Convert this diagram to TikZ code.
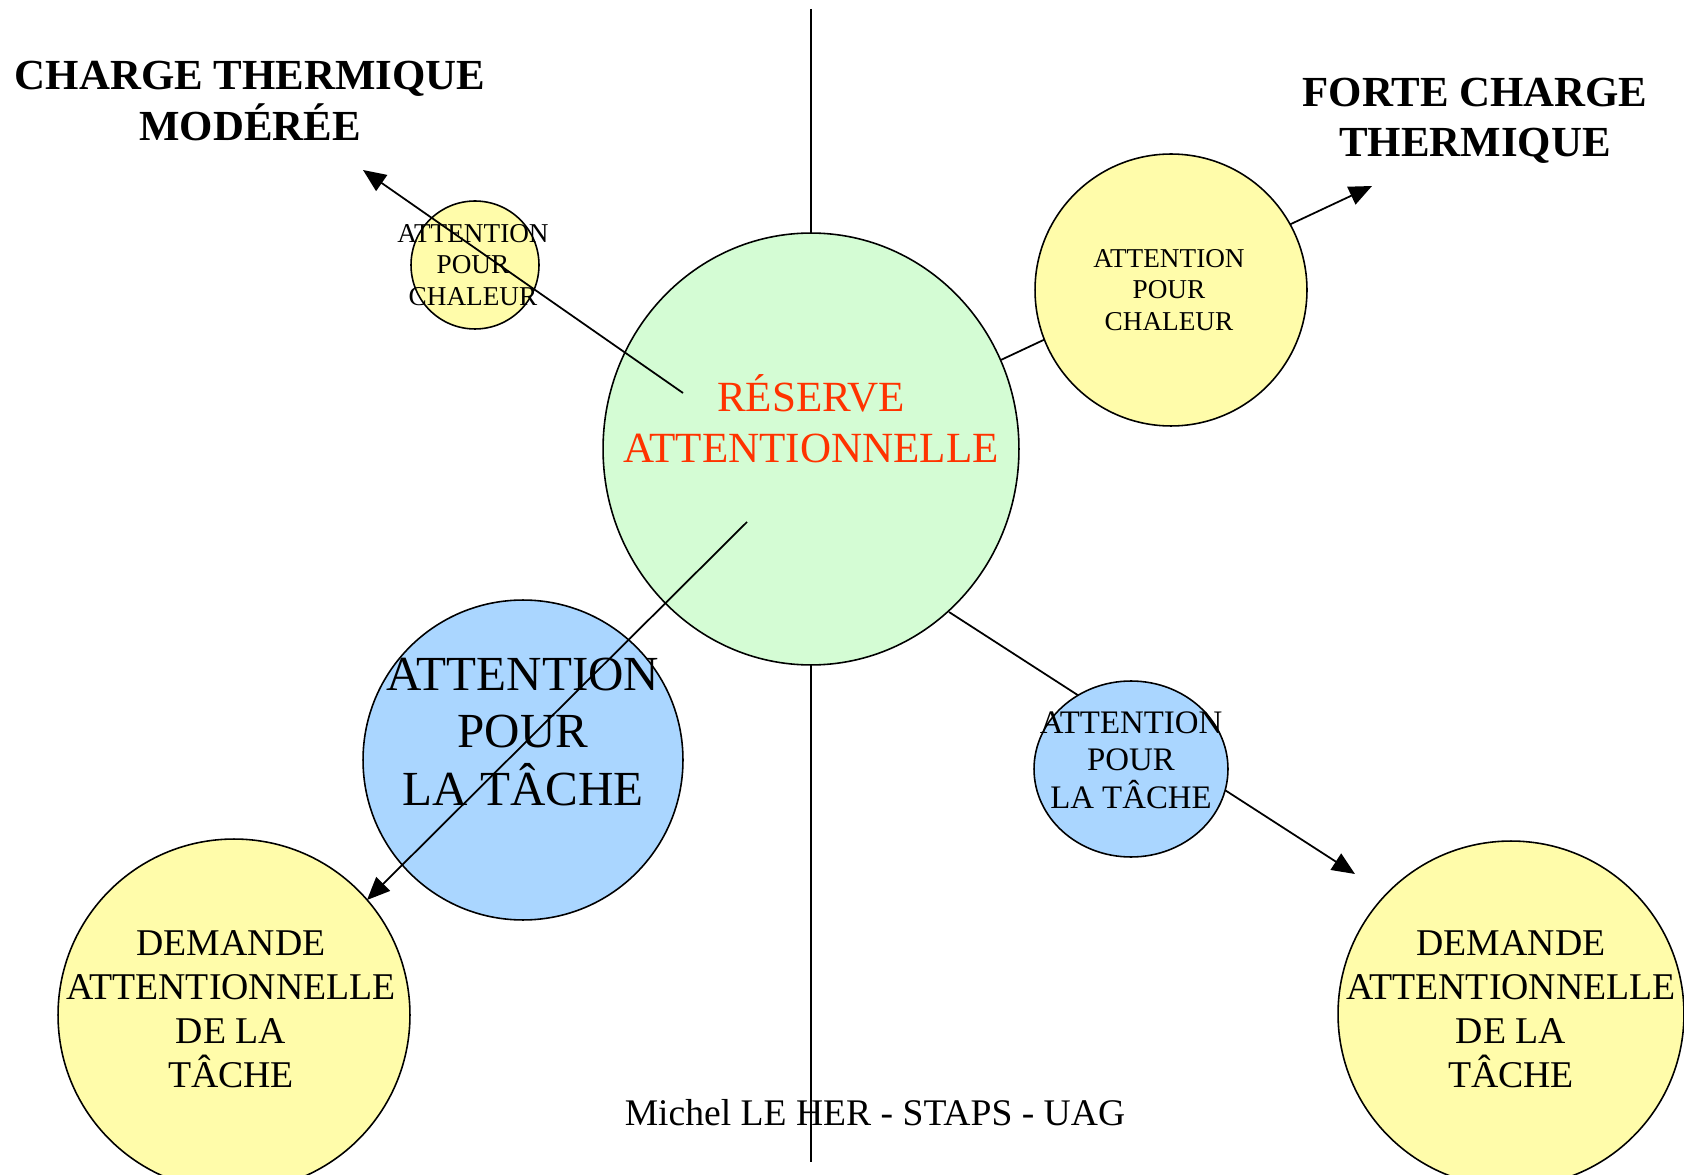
\documentclass[tikz,border=0pt]{standalone}
\usepackage{fontspec}
\setmainfont{Liberation Serif}
\usetikzlibrary{arrows.meta,positioning,shapes.geometric,backgrounds}
\definecolor{vertpale}{RGB}{212,252,212}
\definecolor{jaunepale}{RGB}{255,252,170}
\definecolor{bleupale}{RGB}{170,214,255}
\definecolor{rougevif}{RGB}{255,51,0}

\begin{document}
\begin{tikzpicture}[x=0.02cm, y=-0.02cm,
    bulle/.style={draw, line width=0.9pt, inner sep=0pt},
    rond/.style={bulle, circle, minimum size=#1},
    ovale/.style={bulle, ellipse},
    fleche/.style={line width=1pt, -{Triangle[length=13pt, width=11pt]}},
    texte/.style={align=center, inner sep=0pt}]
    \useasboundingbox (0,0) rectangle (1684,1175);

    % axe vertical
    \coordinate (axehaut) at (811,9);
    \coordinate (axebas) at (811,1162);

    % bulles
    \node[ovale, fill=vertpale, minimum width=8.32cm, minimum height=8.64cm] (reserve) at (811,449) {};
    \node[rond=2.56cm, fill=jaunepale] (chaleurmod) at (475,265) {};
    \node[rond=5.44cm, fill=jaunepale] (chaleurfort) at (1171,290) {};
    \node[rond=6.4cm, fill=bleupale] (tachemod) at (523,760) {};
    \node[ovale, fill=bleupale, minimum width=3.88cm, minimum height=3.52cm] (tachefort) at (1131,769) {};
    \node[rond=7.04cm, fill=jaunepale] (demandemod) at (234,1015) {};
    \node[rond=6.92cm, fill=jaunepale] (demandefort) at (1511,1014) {};

    % textes
    \node[texte, font=\fontsize{24.4}{28.6}\selectfont\bfseries] (titremod) at (250,101) {CHARGE THERMIQUE\\MODÉRÉE};
    \node[texte, font=\fontsize{24.4}{28.6}\selectfont\bfseries] (titrefort) at (1475,121) {FORTE CHARGE\\THERMIQUE};
    \node[texte, text=rougevif, font=\fontsize{24.5}{29.2}\selectfont] (reservetxt) at (811,419) {RÉSERVE\\ATTENTIONNELLE};
    \node[texte, font=\fontsize{15.5}{18.1}\selectfont] (chaleurmodtxt) at (473,265) {ATTENTION\\POUR\\CHALEUR};
    \node[texte, font=\fontsize{15.5}{18.1}\selectfont] (chaleurforttxt) at (1169,290) {ATTENTION\\POUR\\CHALEUR};
    \node[texte, font=\fontsize{27.9}{33}\selectfont] (tachemodtxt) at (523,732) {ATTENTION\\POUR\\LA TÂCHE};
    \node[texte, font=\fontsize{18.7}{21.3}\selectfont] (tachefortxt) at (1131,760) {ATTENTION\\POUR\\LA TÂCHE};
    \node[texte, font=\fontsize{21.5}{25}\selectfont] (demandemodtxt) at (231,1009) {DEMANDE\\ATTENTIONNELLE\\DE LA\\TÂCHE};
    \node[texte, font=\fontsize{21.5}{25}\selectfont] (demandeforttxt) at (1511,1009) {DEMANDE\\ATTENTIONNELLE\\DE LA\\TÂCHE};
    \node[texte, font=\fontsize{21.4}{25}\selectfont] (auteur) at (875,1113) {Michel LE HER - STAPS - UAG};

    % fleches
    \coordinate (depmod) at (683,393);
    \coordinate (pointemod) at (363,170);
    \coordinate (deptache) at (747,522);
    \coordinate (pointetache) at (367,900);
    \coordinate (pointefort) at (1372,186);
    \coordinate (deptachefort) at (949,612);
    \coordinate (pointetachefort) at (1355,874);
    \draw[fleche] (depmod) -- (pointemod);
    \draw[fleche] (deptache) -- (pointetache);

    \begin{scope}[on background layer]
    \draw[line width=1pt] (axehaut) -- (axebas);
    \draw[fleche] (reserve) -- (pointefort);
    \draw[fleche] (deptachefort) -- (pointetachefort);
    \end{scope}
\end{tikzpicture}
\end{document}
